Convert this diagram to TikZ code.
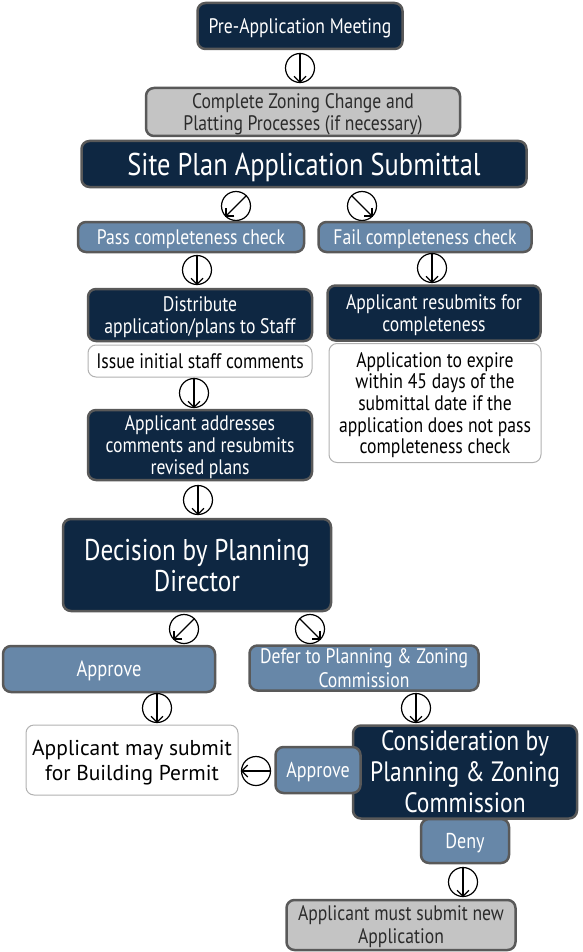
\documentclass[tikz,border=0pt]{standalone}
\usepackage{fontspec}
\setmainfont{PT Sans}[FakeStretch=0.84]
\newfontfamily\plainfont{PT Sans}
\usetikzlibrary{arrows.meta}
\definecolor{navy}{HTML}{0E2742}
\definecolor{steel}{HTML}{6787A8}
\definecolor{lightgrey}{HTML}{C4C4C4}
\definecolor{boxedge}{HTML}{595959}
\definecolor{darktext}{HTML}{2B2B2B}
\newcommand{\fs}[2]{\fontsize{#1}{#2}\selectfont}

\begin{document}
\begin{tikzpicture}[x=1pt, y=-1pt,
    box/.style={draw=boxedge, line width=2.5pt, rounded corners=8pt, align=center, inner sep=0pt, text depth=0pt},
    darkbox/.style={box, fill=navy, text=white},
    bluebox/.style={box, fill=steel, text=white},
    greybox/.style={box, fill=lightgrey, text=darktext},
    whitebox/.style={box, fill=white, draw=gray!60, line width=1pt, text=black},
    ring/.style={circle, draw, line width=1.2pt, fill=white, minimum size=29pt, inner sep=0pt},
    tip/.style={-{Straight Barb[length=6pt, width=12pt]}, line width=1.2pt}]
            \useasboundingbox (0,0) rectangle (582,952);

            % start
            \node[darkbox, minimum width=205pt, minimum height=46pt, font=\fs{21}{21}] (meet) at (300,26) {Pre-Application Meeting};
            \node[ring] (r1) at (300,68) {};
            \draw[tip] (r1.north) -- (r1.south);
            \node[greybox, minimum width=314pt, minimum height=48pt, font=\fs{21}{22}] (zoning) at (303,112) {Complete Zoning Change and\\Platting Processes (if necessary)};
            \node[darkbox, minimum width=445pt, minimum height=46pt, font=\fs{31.5}{32}] (submit) at (304,164) {Site Plan Application Submittal};

            % completeness check
            \node[ring] (r2) at (236,206) {};
            \draw[tip] (r2.north east) -- (r2.south west);
            \node[ring] (r3) at (362,206) {};
            \draw[tip] (r3.north west) -- (r3.south east);
            \node[bluebox, minimum width=226pt, minimum height=30pt, font=\fs{21}{21}] (pass) at (191,237) {Pass completeness check};
            \node[bluebox, minimum width=213pt, minimum height=30pt, font=\fs{21}{21}] (fail) at (425,237) {Fail completeness check};

            % pass branch
            \node[ring] (r4) at (197,270) {};
            \draw[tip] (r4.north) -- (r4.south);
            \node[darkbox, minimum width=224pt, minimum height=52pt, font=\fs{21}{21.7}] (distrib) at (200,315) {Distribute\\application/plans to Staff};
            \node[whitebox, minimum width=224pt, minimum height=32pt, font=\fs{21}{21}] (issue) at (200,361) {Issue initial staff comments};
            \node[ring] (r5) at (194,393) {};
            \draw[tip] (r5.north) -- (r5.south);
            \node[darkbox, minimum width=224pt, minimum height=70pt, font=\fs{21}{21.7}] (address) at (200,445) {Applicant addresses\\comments and resubmits\\revised plans};

            % fail branch
            \node[ring] (r6) at (432,268) {};
            \draw[tip] (r6.north) -- (r6.south);
            \node[darkbox, minimum width=213pt, minimum height=55pt, font=\fs{21}{21.7}] (resub) at (434,313) {Applicant resubmits for\\completeness};
            \node[whitebox, minimum width=212pt, minimum height=119pt, font=\fs{21}{21.7}] (expire) at (435,403) {Application to expire\\within 45 days of the\\submittal date if the\\application does not pass\\completeness check};

            % decision
            \node[ring] (r7) at (198,500) {};
            \draw[tip] (r7.north) -- (r7.south);
            \node[darkbox, minimum width=268pt, minimum height=92pt, font=\fs{30}{31}] (decide) at (197,565) {Decision by Planning\\Director};
            \node[ring] (r8) at (184,629) {};
            \draw[tip] (r8.north east) -- (r8.south west);
            \node[ring] (r9) at (310,629) {};
            \draw[tip] (r9.north west) -- (r9.south east);
            \node[bluebox, minimum width=212pt, minimum height=46pt, font=\fs{22}{22}] (approve) at (109,669) {Approve};
            \node[bluebox, minimum width=229pt, minimum height=45pt, font=\fs{21}{24}] (defer) at (364,668) {Defer to Planning \& Zoning\\Commission};

            % outcomes
            \node[ring] (r10) at (157,708) {};
            \draw[tip] (r10.north) -- (r10.south);
            \node[whitebox, minimum width=212pt, minimum height=70pt, font=\plainfont\fs{21.5}{25}] (permit) at (132,760) {Applicant may submit\\for Building Permit};
            \node[ring] (r11) at (416,708) {};
            \draw[tip] (r11.north) -- (r11.south);
            \node[bluebox, minimum width=88pt, minimum height=44pt, font=\fs{21.5}{21}] (deny) at (465,841) {Deny};
            \node[darkbox, minimum width=224pt, minimum height=93pt, font=\fs{28}{31}] (pz) at (465,772) {Consideration by\\Planning \& Zoning\\Commission};
            \node[bluebox, minimum width=85pt, minimum height=46pt, font=\fs{21.5}{21}] (pzok) at (318,770) {Approve};
            \node[ring] (r12) at (256,771) {};
            \draw[tip] (r12.east) -- (r12.west);
            \node[ring] (r13) at (463,882) {};
            \draw[tip] (r13.north) -- (r13.south);
            \node[greybox, minimum width=229pt, minimum height=50pt, font=\fs{21}{23}] (newapp) at (401,925) {Applicant must submit new\\Application};
        \end{tikzpicture}
\end{document}
